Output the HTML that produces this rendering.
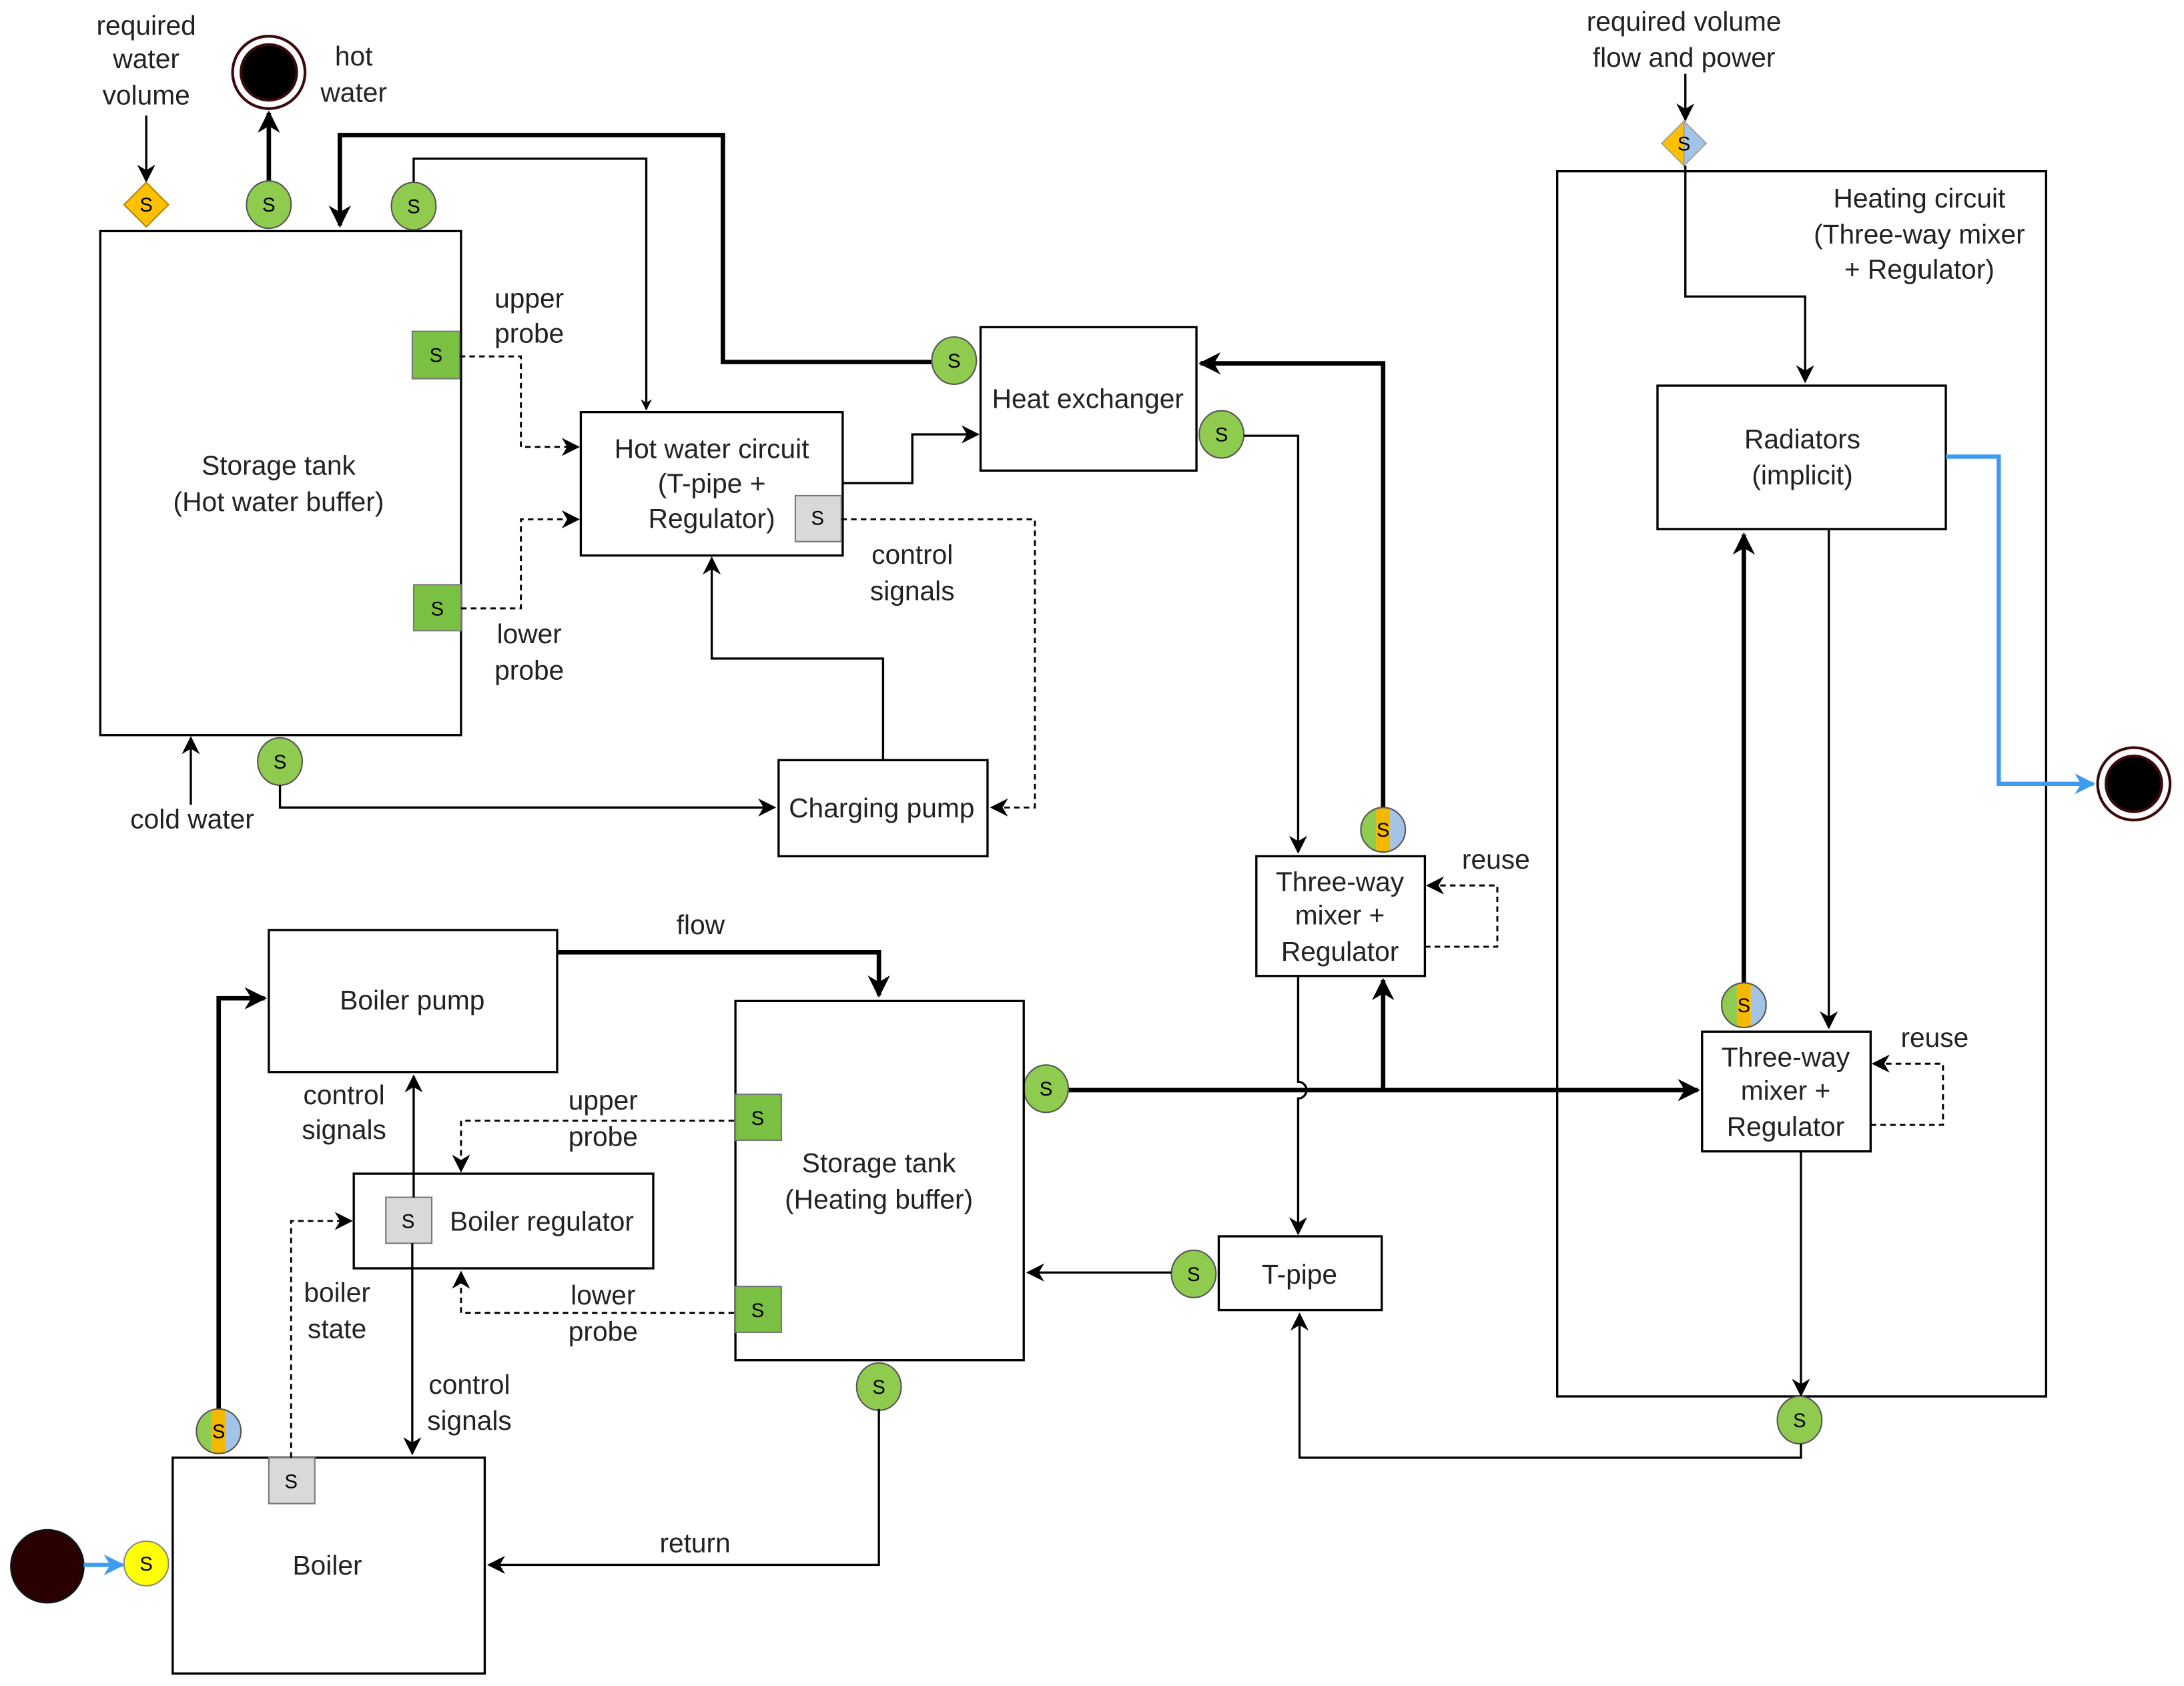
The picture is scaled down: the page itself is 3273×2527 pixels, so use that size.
<!DOCTYPE html>
<html><head><meta charset="utf-8"><style>
html,body{margin:0;padding:0;background:#fff;}
svg{display:block;}
text{font-family:"Liberation Sans",Arial,sans-serif;font-size:19.5px;fill:#222;text-anchor:middle;}
.s{font-size:14px;fill:#000;}
.b{fill:#fff;stroke:#000;stroke-width:1.6;}
.l{fill:none;stroke:#000;stroke-width:1.6;}
.t{fill:none;stroke:#000;stroke-width:3.2;}
.d{fill:none;stroke:#000;stroke-width:1.4;stroke-dasharray:4,3;}
.bl{fill:none;stroke:#3d9cf0;stroke-width:3;}
.g{fill:#8fcb4e;stroke:#555;stroke-width:1;}
.gs{fill:#7ac143;stroke:#777;stroke-width:1;}
.gr{fill:#d9d9d9;stroke:#777;stroke-width:1;}
</style></head><body>
<svg width="3273" height="2527" viewBox="0 0 1568 1211" preserveAspectRatio="none" xmlns="http://www.w3.org/2000/svg">
<defs>
<marker id="a" viewBox="0 0 10 10" refX="9" refY="5" markerWidth="6" markerHeight="6" markerUnits="userSpaceOnUse" orient="auto"><path d="M0,0 L10,5 L0,10 L3,5 z" fill="#000"/></marker>
<marker id="at" viewBox="0 0 10 10" refX="9" refY="5" markerWidth="5" markerHeight="5" orient="auto"><path d="M0,0 L10,5 L0,10 L3,5 z" fill="#000"/></marker>
<marker id="ab" viewBox="0 0 10 10" refX="9" refY="5" markerWidth="5" markerHeight="5" orient="auto"><path d="M0,0 L10,5 L0,10 L3,5 z" fill="#3d9cf0"/></marker>
<marker id="ad" viewBox="0 0 10 10" refX="9" refY="5" markerWidth="13" markerHeight="13" markerUnits="userSpaceOnUse" orient="auto"><path d="M0,0 L10,5 L0,10 L3,5 z" fill="#000"/></marker>
<clipPath id="c1"><circle cx="0" cy="0" r="16"/></clipPath>
</defs>

<text x="105" y="25">required</text><text x="105" y="49">water</text><text x="105" y="75">volume</text>
<line class="l" x1="105" y1="83" x2="105" y2="130" marker-end="url(#ad)"/>
<polygon points="105,131 121,147 105,163 89,147" fill="#ffc000" stroke="#b38600" stroke-width="1"/><text class="s" x="105" y="152">S</text>
<circle cx="193" cy="52" r="26" fill="#fff" stroke="#3a0a0a" stroke-width="2"/><circle cx="193" cy="52" r="20" fill="#000" stroke="#3a0a0a" stroke-width="2"/>
<text x="254" y="47">hot</text><text x="254" y="73">water</text>
<line class="t" x1="193" y1="131" x2="193" y2="81" marker-end="url(#at)"/>
<ellipse class="g" cx="193" cy="147" rx="16" ry="17"/><text class="s" x="193" y="152">S</text>

<rect class="b" x="72" y="166" width="259" height="362"/>
<text x="200" y="341">Storage tank</text><text x="200" y="367">(Hot water buffer)</text>
<path class="t" d="M669,260 H519 V97 H244 V162" marker-end="url(#at)"/>
<path class="l" d="M297,132 V114 H464 V294" marker-end="url(#at)"/>
<ellipse class="g" cx="297" cy="148" rx="16" ry="17"/><text class="s" x="297" y="153">S</text>
<rect class="gs" x="296" y="238" width="34" height="34"/><text class="s" x="313" y="260">S</text>
<path class="d" d="M330,256 H374 V321 H415" marker-end="url(#ad)"/>
<text x="380" y="221">upper</text><text x="380" y="246">probe</text>
<rect class="gs" x="297" y="420" width="34" height="33"/><text class="s" x="314" y="442">S</text>
<path class="d" d="M331,437 H374 V373 H415" marker-end="url(#ad)"/>
<text x="380" y="462">lower</text><text x="380" y="488">probe</text>

<rect class="b" x="417" y="296" width="188" height="103"/>
<text x="511" y="329">Hot water circuit</text><text x="511" y="354">(T-pipe +</text><text x="511" y="379">Regulator)</text>
<rect class="gr" x="571" y="356" width="33" height="33"/><text class="s" x="587" y="377">S</text>
<path class="l" d="M605,347 H655 V312 H702" marker-end="url(#ad)"/>
<path class="d" d="M604,373 H743 V580 H712" marker-end="url(#ad)"/>
<text x="655" y="405">control</text><text x="655" y="431">signals</text>

<rect class="b" x="704" y="235" width="155" height="103"/><text x="781" y="293">Heat exchanger</text>
<ellipse class="g" cx="685" cy="259" rx="16" ry="17"/><text class="s" x="685" y="264">S</text>
<ellipse class="g" cx="877" cy="312" rx="16" ry="17"/><text class="s" x="877" y="317">S</text>
<path class="l" d="M893,313 H932 V612" marker-end="url(#ad)"/>
<path class="t" d="M993,580 V261 H862" marker-end="url(#at)"/>

<rect class="b" x="559" y="546" width="150" height="69"/><text x="633" y="587">Charging pump</text>
<path class="l" d="M634,546 V473 H511 V401" marker-end="url(#ad)"/>
<ellipse class="g" cx="201" cy="547" rx="16" ry="17"/><text class="s" x="201" y="552">S</text>
<path class="l" d="M201,564 V580 H556" marker-end="url(#ad)"/>
<line class="l" x1="137" y1="578" x2="137" y2="530" marker-end="url(#ad)"/>
<text x="138" y="595">cold water</text>

<rect x="1118" y="123" width="351" height="880" fill="none" stroke="#000" stroke-width="1.6"/>

<rect class="b" x="902" y="615" width="121" height="86"/>
<text x="962" y="640">Three-way</text><text x="962" y="664">mixer +</text><text x="962" y="690">Regulator</text>
<path class="d" d="M1023,680 H1075 V636 H1025" marker-end="url(#ad)"/>
<text x="1074" y="624">reuse</text>
<g transform="translate(993,596)"><g clip-path="url(#c1)"><rect x="-16" y="-16" width="11" height="32" fill="#8fcb4e"/><rect x="-5" y="-16" width="10" height="32" fill="#f5b800"/><rect x="5" y="-16" width="11" height="32" fill="#a3c4e6"/></g><circle r="16" fill="none" stroke="#555" stroke-width="1"/><text class="s" x="0" y="5">S</text></g>
<path class="l" d="M932,701 V777 A6,6 0 0 1 932,789 V886" marker-end="url(#ad)"/>

<path class="t" d="M767,783 H1219" marker-end="url(#at)"/>
<path class="t" d="M993,783 V704" marker-end="url(#at)"/>
<ellipse class="g" cx="751" cy="782" rx="16" ry="17"/><text class="s" x="751" y="787">S</text>

<rect class="b" x="875" y="888" width="117" height="53"/><text x="933" y="922">T-pipe</text>
<ellipse class="g" cx="857" cy="915" rx="16" ry="17"/><text class="s" x="857" y="920">S</text>
<path class="l" d="M841,914 H738" marker-end="url(#ad)"/>

<rect class="b" x="528" y="719" width="207" height="258"/>
<text x="631" y="842">Storage tank</text><text x="631" y="868">(Heating buffer)</text>
<rect class="gs" x="528" y="786" width="33" height="33"/><text class="s" x="544" y="808">S</text>
<rect class="gs" x="528" y="924" width="33" height="33"/><text class="s" x="544" y="946">S</text>
<ellipse class="g" cx="631" cy="996" rx="16" ry="17"/><text class="s" x="631" y="1001">S</text>
<path class="d" d="M527,805 H331 V841" marker-end="url(#ad)"/>
<text x="433" y="797">upper</text><text x="433" y="823">probe</text>
<path class="d" d="M527,943 H331 V914" marker-end="url(#ad)"/>
<text x="433" y="937">lower</text><text x="433" y="963">probe</text>

<rect class="b" x="193" y="668" width="207" height="102"/><text x="296" y="725">Boiler pump</text>
<path class="t" d="M400,684 H631 V715" marker-end="url(#at)"/>
<text x="503" y="671">flow</text>

<rect class="b" x="254" y="843" width="215" height="68"/>
<rect class="gr" x="277" y="860" width="33" height="33"/><text class="s" x="293" y="882">S</text>
<text x="389" y="884">Boiler regulator</text>
<path class="l" d="M297,860 V773" marker-end="url(#ad)"/>
<path class="l" d="M296,893 V1044" marker-end="url(#ad)"/>
<text x="247" y="793">control</text><text x="247" y="818">signals</text>
<text x="337" y="1001">control</text><text x="337" y="1027">signals</text>

<rect class="b" x="124" y="1047" width="224" height="155"/><text x="235" y="1131">Boiler</text>
<rect class="gr" x="193" y="1047" width="33" height="33"/><text class="s" x="209" y="1069">S</text>
<path class="d" d="M209,1047 V877 H252" marker-end="url(#ad)"/>
<text x="242" y="935">boiler</text><text x="242" y="961">state</text>
<path class="t" d="M157,1012 V717 H190" marker-end="url(#at)"/>
<g transform="translate(157,1028)"><g clip-path="url(#c1)"><rect x="-16" y="-16" width="11" height="32" fill="#8fcb4e"/><rect x="-5" y="-16" width="10" height="32" fill="#f5b800"/><rect x="5" y="-16" width="11" height="32" fill="#a3c4e6"/></g><circle r="16" fill="none" stroke="#555" stroke-width="1"/><text class="s" x="0" y="5">S</text></g>
<circle cx="34" cy="1125" r="26" fill="#2a0000" stroke="#111" stroke-width="1.5"/>
<line class="bl" x1="60" y1="1124" x2="88" y2="1124" marker-end="url(#ab)"/>
<circle cx="105" cy="1123" r="16" fill="#ffff00" stroke="#888" stroke-width="1"/><text class="s" x="105" y="1128">S</text>
<path class="l" d="M631,1012 V1124 H351" marker-end="url(#ad)"/>
<text x="499" y="1115">return</text>

<text x="1378" y="149">Heating circuit</text><text x="1378" y="175">(Three-way mixer</text><text x="1378" y="200">+ Regulator)</text>
<text x="1209" y="22">required volume</text><text x="1209" y="48">flow and power</text>
<line class="l" x1="1210" y1="53" x2="1210" y2="86" marker-end="url(#ad)"/>
<polygon points="1209,87 1209,119 1193,103" fill="#ffc000" stroke="#999" stroke-width="0.8"/>
<polygon points="1209,87 1225,103 1209,119" fill="#a3c4e6" stroke="#999" stroke-width="0.8"/>
<text class="s" x="1209" y="108">S</text>
<path class="l" d="M1210,119 V213 H1296 V274" marker-end="url(#ad)"/>
<rect class="b" x="1190" y="277" width="207" height="103"/>
<text x="1294" y="322">Radiators</text><text x="1294" y="348">(implicit)</text>
<path class="bl" d="M1397,328 H1435 V563 H1503" marker-end="url(#ab)"/>
<circle cx="1532" cy="563" r="26" fill="#fff" stroke="#3a0a0a" stroke-width="2"/><circle cx="1532" cy="563" r="20" fill="#000" stroke="#3a0a0a" stroke-width="2"/>
<path class="l" d="M1313,380 V738" marker-end="url(#ad)"/>
<path class="t" d="M1252,706 V384" marker-end="url(#at)"/>
<g transform="translate(1252,722)"><g clip-path="url(#c1)"><rect x="-16" y="-16" width="11" height="32" fill="#8fcb4e"/><rect x="-5" y="-16" width="10" height="32" fill="#f5b800"/><rect x="5" y="-16" width="11" height="32" fill="#a3c4e6"/></g><circle r="16" fill="none" stroke="#555" stroke-width="1"/><text class="s" x="0" y="5">S</text></g>
<rect class="b" x="1222" y="741" width="121" height="86"/>
<text x="1282" y="766">Three-way</text><text x="1282" y="790">mixer +</text><text x="1282" y="816">Regulator</text>
<path class="d" d="M1343,808 H1395 V764 H1345" marker-end="url(#ad)"/>
<text x="1389" y="752">reuse</text>
<path class="l" d="M1293,827 V1002" marker-end="url(#ad)"/>
<ellipse class="g" cx="1292" cy="1020" rx="16" ry="17"/><text class="s" x="1292" y="1025">S</text>
<path class="l" d="M1293,1037 V1047 H933 V944" marker-end="url(#ad)"/>
</svg>
</body></html>
